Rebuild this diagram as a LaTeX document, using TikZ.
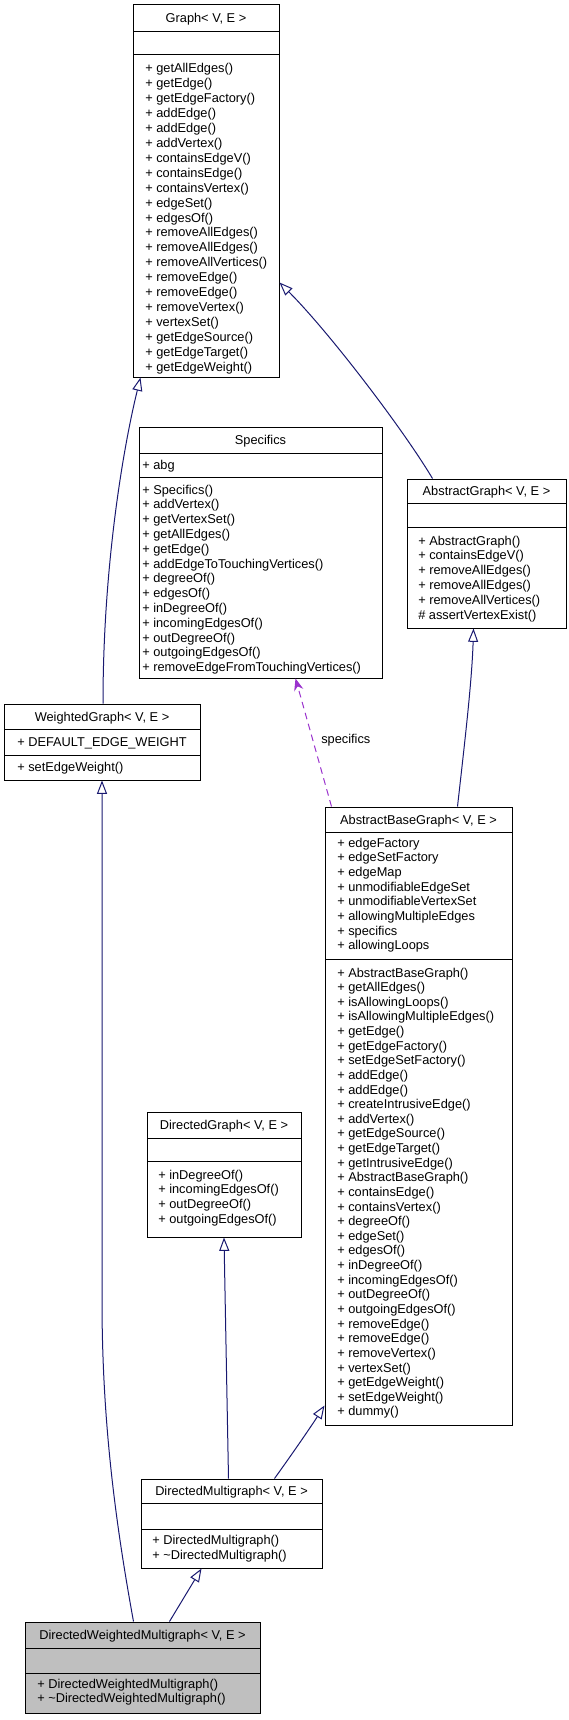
\documentclass[tikz,border=0pt]{standalone}
\usepackage{fontspec}
\setmainfont{Liberation Sans}
\usetikzlibrary{arrows.meta,fit,calc}
\definecolor{edgeblue}{HTML}{191970}
\definecolor{usepurple}{HTML}{9A32CD}
\definecolor{dwmgray}{HTML}{BFBFBF}
\begin{document}
\begin{tikzpicture}[x=0.75pt,y=-0.75pt,
 classbox/.style={draw=black, line width=0.75pt, inner sep=0pt, fill=white},
 divider/.style={draw=black, line width=0.75pt},
 txt/.style={inner sep=0pt, anchor=base west, font=\fontsize{9.6}{11}\selectfont},
 ttl/.style={inner sep=0pt, anchor=base, font=\fontsize{9.6}{11}\selectfont},
 inh/.style={draw=edgeblue, line width=0.75pt, -{Triangle[open,length=10pt,width=7.5pt]}},
 uses/.style={draw=usepurple, line width=0.75pt, dash pattern=on 5pt off 3.5pt, -{Stealth[length=9pt,width=7pt]}},
 lbl/.style={inner sep=0pt, font=\fontsize{9.6}{11}\selectfont},
]
\useasboundingbox (0,0) rectangle (568,1720);

% ---------- Graph
\node[classbox, fit={(133,5) (279,377)}] (graph) {};
\draw[divider] (133,32) -- (279,32);
\draw[divider] (133,55) -- (279,55);
\node[ttl] (graph-t) at (206,23) {Graph< V, E >};
\foreach \t [count=\i from 0] in {+ getAllEdges(),+ getEdge(),+ getEdgeFactory(),+ addEdge(),+ addEdge(),+ addVertex(),+ containsEdgeV(),+ containsEdge(),+ containsVertex(),+ edgeSet(),+ edgesOf(),+ removeAllEdges(),+ removeAllEdges(),+ removeAllVertices(),+ removeEdge(),+ removeEdge(),+ removeVertex(),+ vertexSet(),+ getEdgeSource(),+ getEdgeTarget(),+ getEdgeWeight()}
  \node[txt] (graph-m\i) at ({145},{73+14.9*\i}) {\t};

% ---------- Specifics
\node[classbox, fit={(139,427) (382,678)}] (spec) {};
\draw[divider] (139,453) -- (382,453);
\draw[divider] (139,477) -- (382,477);
\node[ttl] (spec-t) at (260.5,444.5) {Specifics};
\node[txt] (spec-a0) at (142,469) {+ abg};
\foreach \t [count=\i from 0] in {+ Specifics(),+ addVertex(),+ getVertexSet(),+ getAllEdges(),+ getEdge(),+ addEdgeToTouchingVertices(),+ degreeOf(),+ edgesOf(),+ inDegreeOf(),+ incomingEdgesOf(),+ outDegreeOf(),+ outgoingEdgesOf(),+ removeEdgeFromTouchingVertices()}
  \node[txt] (spec-m\i) at ({142},{494+14.8*\i}) {\t};

% ---------- AbstractGraph
\node[classbox, fit={(407,479) (566,628)}] (ag) {};
\draw[divider] (407,503) -- (566,503);
\draw[divider] (407,527) -- (566,527);
\node[ttl] (ag-t) at (486.5,495.5) {AbstractGraph< V, E >};
\foreach \t [count=\i from 0] in {+ AbstractGraph(),+ containsEdgeV(),+ removeAllEdges(),+ removeAllEdges(),+ removeAllVertices(),\# assertVertexExist()}
  \node[txt] (ag-m\i) at ({418},{545+14.8*\i}) {\t};

% ---------- WeightedGraph
\node[classbox, fit={(4,704) (200,780)}] (wg) {};
\draw[divider] (4,729) -- (200,729);
\draw[divider] (4,755) -- (200,755);
\node[ttl] (wg-t) at (102,721) {WeightedGraph< V, E >};
\node[txt] (wg-a0) at (17,746.3) {+ DEFAULT\_EDGE\_WEIGHT};
\node[txt] (wg-m0) at (17,771.3) {+ setEdgeWeight()};

% ---------- AbstractBaseGraph
\node[classbox, fit={(325,807) (512,1425)}] (abg) {};
\draw[divider] (325,832) -- (512,832);
\draw[divider] (325,959) -- (512,959);
\node[ttl] (abg-t) at (418.5,824) {AbstractBaseGraph< V, E >};
\foreach \t [count=\i from 0] in {+ edgeFactory,+ edgeSetFactory,+ edgeMap,+ unmodifiableEdgeSet,+ unmodifiableVertexSet,+ allowingMultipleEdges,+ specifics,+ allowingLoops}
  \node[txt] (abg-a\i) at ({337},{847+14.71*\i}) {\t};
\foreach \t [count=\i from 0] in {+ AbstractBaseGraph(),+ getAllEdges(),+ isAllowingLoops(),+ isAllowingMultipleEdges(),+ getEdge(),+ getEdgeFactory(),+ setEdgeSetFactory(),+ addEdge(),+ addEdge(),+ createIntrusiveEdge(),+ addVertex(),+ getEdgeSource(),+ getEdgeTarget(),+ getIntrusiveEdge(),+ AbstractBaseGraph(),+ containsEdge(),+ containsVertex(),+ degreeOf(),+ edgeSet(),+ edgesOf(),+ inDegreeOf(),+ incomingEdgesOf(),+ outDegreeOf(),+ outgoingEdgesOf(),+ removeEdge(),+ removeEdge(),+ removeVertex(),+ vertexSet(),+ getEdgeWeight(),+ setEdgeWeight(),+ dummy()}
  \node[txt] (abg-m\i) at ({337},{977+14.63*\i}) {\t};

% ---------- DirectedGraph
\node[classbox, fit={(147,1112) (301,1237)}] (dg) {};
\draw[divider] (147,1138) -- (301,1138);
\draw[divider] (147,1161) -- (301,1161);
\node[ttl] (dg-t) at (224,1129.5) {DirectedGraph< V, E >};
\foreach \t [count=\i from 0] in {+ inDegreeOf(),+ incomingEdgesOf(),+ outDegreeOf(),+ outgoingEdgesOf()}
  \node[txt] (dg-m\i) at ({158},{1179+14.8*\i}) {\t};

% ---------- DirectedMultigraph
\node[classbox, fit={(141,1479) (322,1568)}] (dm) {};
\draw[divider] (141,1503) -- (322,1503);
\draw[divider] (141,1529) -- (322,1529);
\node[ttl] (dm-t) at (231.5,1495.5) {DirectedMultigraph< V, E >};
\node[txt] (dm-m0) at (152,1544.3) {+ DirectedMultigraph()};
\node[txt] (dm-m1) at (152,1559.3) {+ \textasciitilde DirectedMultigraph()};

% ---------- DirectedWeightedMultigraph
\node[classbox, fill=dwmgray, fit={(25,1622) (260,1713)}] (dwm) {};
\draw[divider] (25,1648) -- (260,1648);
\draw[divider] (25,1673) -- (260,1673);
\node[ttl] (dwm-t) at (142.5,1639.5) {DirectedWeightedMultigraph< V, E >};
\node[txt] (dwm-m0) at (37,1688.3) {+ DirectedWeightedMultigraph()};
\node[txt] (dwm-m1) at (37,1702.8) {+ \textasciitilde DirectedWeightedMultigraph()};

% ---------- connectors
\draw[inh] ($(wg.north)+(1,0)$) .. controls (103,560) and (125,440) .. ($(graph.south west)+(8,0)$);
\draw[inh] ($(ag.north west)+(26,0)$) .. controls (403,429) and (329,332) .. ($(graph.south east)+(0,-95)$);
\draw[inh] ($(abg.north west)+(133,0)$) .. controls (465,740) and (472,680) .. ($(ag.south west)+(67,0)$);
\draw[uses] ($(abg.north west)+(7,0)$) -- ($(spec.south west)+(157,0)$)
  node[lbl, pos=0.52, right=6pt] (spec-lbl) {specifics};
\draw[inh] ($(dm.north west)+(88,0)$) -- (dg.south);
\draw[inh] ($(dm.north west)+(134,0)$) .. controls (295,1450) and (312,1425) .. ($(abg.south west)+(0,-20)$);
\draw[inh] ($(dwm.north west)+(145,0)$) -- ($(dm.south west)+(61,0)$);
\draw[inh] ($(dwm.north west)+(109,0)$) .. controls (115,1520) and (102,1420) .. (102,1300) -- (wg.south);
\end{tikzpicture}
\end{document}
